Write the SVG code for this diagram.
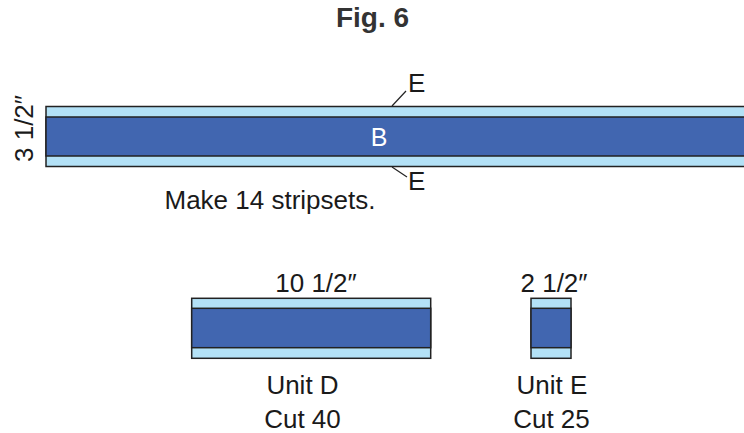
<svg xmlns="http://www.w3.org/2000/svg" width="744" height="433" viewBox="0 0 744 433">
<style>
.lt{fill:#b3e1f6;stroke:#222;stroke-width:1.5}
.dk{fill:#4166b0;stroke:#222;stroke-width:1.5}
.t{font-family:"Liberation Sans",Arial,sans-serif;font-size:26px;fill:#1a1a1a}
.ld{stroke:#222;stroke-width:1.2;fill:none}
</style>
<rect width="744" height="433" fill="#fff"/>
<g id="title"><text x="372.5" y="27" text-anchor="middle" font-family="'Liberation Sans',Arial,sans-serif" font-weight="bold" font-size="28" fill="#333">Fig. 6</text></g>
<g id="stripset">
<rect class="lt" x="46" y="106.5" width="710" height="60"/>
<rect class="dk" x="46" y="117" width="710" height="39"/>
<text x="379" y="146" text-anchor="middle" font-family="'Liberation Sans',Arial,sans-serif" font-size="25" fill="#fff">B</text>
<text class="t" transform="translate(33,128.5) rotate(-90)" text-anchor="middle">3 1/2″</text>
</g>
<g id="connectors">
<path class="ld" d="M392 106 L406 91"/>
<path class="ld" d="M392 167 L407 177"/>
</g>
<g id="labelE-top"><text class="t" x="408" y="92">E</text></g>
<g id="labelE-bottom"><text class="t" x="408" y="190">E</text></g>
<g id="make"><text class="t" x="270" y="209" text-anchor="middle">Make 14 stripsets.</text></g>
<g id="unitD">
<rect class="lt" x="191.7" y="298.3" width="239" height="60"/>
<rect class="dk" x="191.7" y="308.3" width="239" height="39.4"/>
<text class="t" x="316" y="291.5" text-anchor="middle">10 1/2″</text>
<text class="t" x="302.5" y="393.5" text-anchor="middle">Unit D</text>
<text class="t" x="302.5" y="427.5" text-anchor="middle">Cut 40</text>
</g>
<g id="unitE">
<rect class="lt" x="531" y="298.3" width="40" height="60"/>
<rect class="dk" x="531" y="308.3" width="40" height="39.4"/>
<text class="t" x="554" y="291.5" text-anchor="middle">2 1/2″</text>
<text class="t" x="552" y="393.5" text-anchor="middle">Unit E</text>
<text class="t" x="551.5" y="427.5" text-anchor="middle">Cut 25</text>
</g>
</svg>
